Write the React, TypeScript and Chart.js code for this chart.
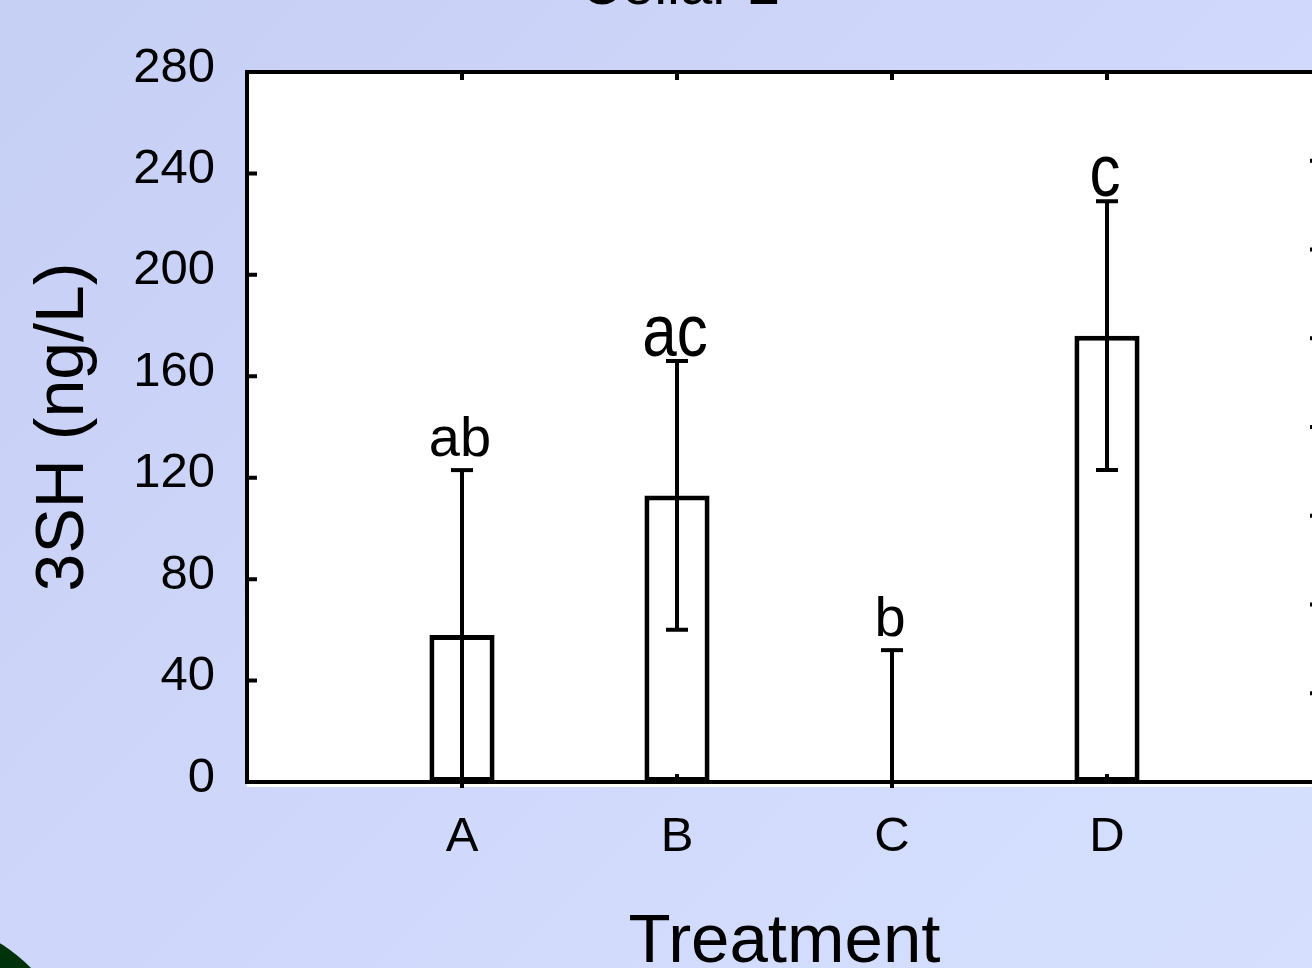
import React, { useEffect, useRef } from 'react';
import { Chart, registerables } from 'chart.js';

Chart.register(...registerables);

// ---- data ----
const categories = ['A', 'B', 'C', 'D'];
const means = [58, 113, 0, 176];
const sds = [65, 53, 52, 53];
const letters = ['ab', 'ac', 'b', 'c'];
const yTicks = [0, 40, 80, 120, 160, 200, 240, 280];
const rightTicks = [0, 1, 2, 3, 4, 5, 6, 7, 8];
const chartTitle = 'Cellar 2';
const yTitle = '3SH (ng/L)';
const xTitle = 'Treatment';

// ---- styles ----
const FONT = '"Liberation Sans", Arial, Helvetica, sans-serif';
const letterStyle = [
  { size: 56, sy: 1, gap: 14 },
  { size: 62, sy: 1.2, gap: 5 },
  { size: 56, sy: 1, gap: 14 },
  { size: 62, sy: 1.2, gap: 5 },
];

const decorPlugin = {
  id: 'decor',
  beforeDraw(chart: any) {
    const { ctx, chartArea: a } = chart;
    ctx.save();
    ctx.fillStyle = '#ffffff';
    ctx.fillRect(a.left, a.top, a.right - a.left, a.bottom - a.top + 5);
    ctx.restore();
  },
  afterDatasetsDraw(chart: any) {
    const { ctx, chartArea: a } = chart;
    const xs = chart.scales.x;
    const ys = chart.scales.y;
    ctx.save();
    ctx.beginPath();
    ctx.rect(a.left, a.top - 4, a.right - a.left, a.bottom - a.top + 10);
    ctx.clip();
    ctx.strokeStyle = '#000';
    ctx.lineWidth = 4;
    ctx.lineCap = 'butt';
    means.forEach((m, i) => {
      const px = xs.getPixelForValue(i + 1);
      const hi = m + sds[i];
      const lo = m - sds[i];
      const pyHi = ys.getPixelForValue(hi);
      const pyLo = ys.getPixelForValue(lo);
      ctx.beginPath();
      ctx.moveTo(px, pyHi);
      ctx.lineTo(px, pyLo);
      ctx.stroke();
      const cap = 11;
      ctx.beginPath();
      ctx.moveTo(px - cap, pyHi);
      ctx.lineTo(px + cap, pyHi);
      if (lo >= 0) {
        ctx.moveTo(px - cap, pyLo);
        ctx.lineTo(px + cap, pyLo);
      }
      ctx.stroke();
    });
    ctx.restore();

    // significance letters
    ctx.save();
    ctx.fillStyle = '#000';
    ctx.textAlign = 'center';
    ctx.textBaseline = 'alphabetic';
    letters.forEach((t, i) => {
      const st = letterStyle[i];
      const px = xs.getPixelForValue(i + 1) - 2;
      const py = ys.getPixelForValue(means[i] + sds[i]) - st.gap;
      ctx.save();
      ctx.font = `${st.size}px ${FONT}`;
      ctx.translate(px, py);
      ctx.scale(1, st.sy);
      ctx.fillText(t, 0, 0);
      ctx.restore();
    });
    ctx.restore();
  },
  afterDraw(chart: any) {
    const { ctx, chartArea: a } = chart;
    const xs = chart.scales.x;
    const ys = chart.scales.y;
    const y2 = chart.scales.y2;
    ctx.save();
    ctx.strokeStyle = '#000';
    ctx.lineWidth = 4;
    ctx.strokeRect(a.left, a.top, a.right - a.left, a.bottom - a.top);
    ctx.beginPath();
    yTicks.forEach((v) => {
      const py = ys.getPixelForValue(v);
      ctx.moveTo(a.left, py);
      ctx.lineTo(a.left + 10, py);
    });
    rightTicks.forEach((v) => {
      const py = y2.getPixelForValue(v);
      ctx.moveTo(a.right, py);
      ctx.lineTo(a.right - 12, py);
    });
    categories.forEach((_, i) => {
      const px = xs.getPixelForValue(i + 1);
      ctx.moveTo(px, a.top);
      ctx.lineTo(px, a.top + 8);
      ctx.moveTo(px, a.bottom);
      ctx.lineTo(px, a.bottom - 8);
    });
    ctx.stroke();
    ctx.restore();
  },
};

export default function App() {
  const ref = useRef<HTMLCanvasElement | null>(null);

  useEffect(() => {
    if (!ref.current) return;
    const chart = new Chart(ref.current, {
      type: 'bar',
      data: {
        labels: ['', ...categories, ''],
        datasets: [
          {
            data: [null, ...means, null],
            yAxisID: 'y',
            backgroundColor: '#ffffff',
            borderColor: '#000000',
            borderWidth: 5,
            borderSkipped: false,
            barPercentage: 0.303,
            categoryPercentage: 1,
          },
        ],
      },
      options: {
        responsive: false,
        devicePixelRatio: 1,
        animation: false,
        layout: { padding: { left: 38, right: 38, top: 0, bottom: 0 } },
        plugins: {
          legend: { display: false },
          tooltip: { enabled: false },
          title: {
            display: true,
            text: chartTitle,
            color: '#000',
            font: { family: FONT, size: 58, weight: 'normal' },
            padding: { top: 13, bottom: 49.4 },
          },
        },
        scales: {
          x: {
            type: 'category',
            offset: false,
            grid: { display: false, drawTicks: false, offset: false },
            border: { display: false },
            ticks: {
              color: '#000',
              font: { family: FONT, size: 49 },
              padding: 26,
              autoSkip: false,
              maxRotation: 0,
            },
            title: {
              display: true,
              text: xTitle,
              color: '#000',
              font: { family: FONT, size: 69 },
              padding: { top: 0, bottom: 6 },
            },
            afterFit: (s: any) => {
              s.height = 208;
            },
          },
          y: {
            position: 'left',
            min: 0,
            max: 280,
            grid: { display: false, drawTicks: false },
            border: { display: false },
            afterBuildTicks: (s: any) => {
              s.ticks = yTicks.map((v) => ({ value: v }));
            },
            ticks: {
              color: '#000',
              font: { family: FONT, size: 49 },
              padding: 32,
              labelOffset: -4,
            },
            title: {
              display: true,
              text: yTitle,
              color: '#000',
              font: { family: FONT, size: 68, lineHeight: 0.62 },
              padding: { top: 5, bottom: 0 },
            },
            afterFit: (s: any) => {
              s.width = 209;
            },
          },
          y2: {
            position: 'right',
            display: false,
            min: 0,
            max: 8,
          },
        },
      },
      plugins: [decorPlugin],
    } as any);
    return () => chart.destroy();
  }, []);

  return (
    <div
      style={{
        position: 'fixed',
        left: 0,
        top: 0,
        width: 1312,
        height: 968,
        overflow: 'hidden',
        background: 'linear-gradient(135deg, #c6cff4 0%, #d0d9fb 55%, #d6e0fe 100%)',
      }}
    >
      <div
        style={{
          position: 'absolute',
          left: -286,
          top: 914,
          width: 372,
          height: 372,
          borderRadius: '50%',
          background: '#00330c',
        }}
      />
      <canvas
        ref={ref}
        width={1360}
        height={1050}
        style={{ position: 'absolute', left: 0, top: -60, width: 1360, height: 1050 }}
      />
    </div>
  );
}
